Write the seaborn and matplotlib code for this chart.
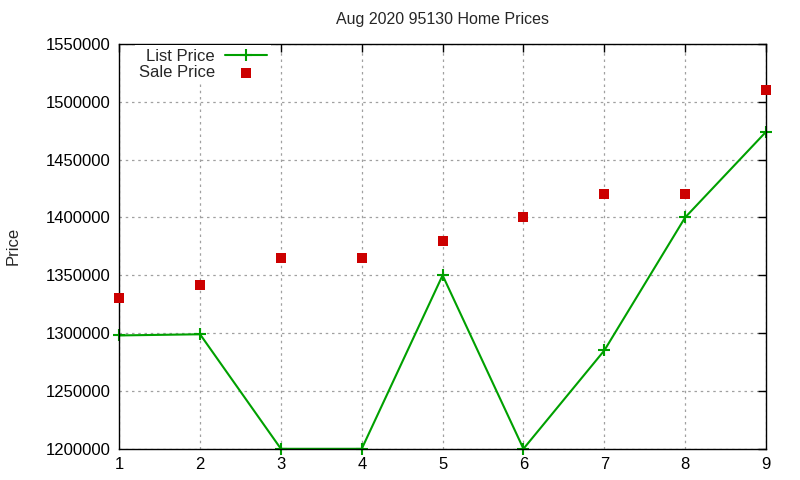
import pandas as pd
import seaborn as sns
import matplotlib
matplotlib.use('Agg')
import matplotlib.pyplot as plt
import matplotlib.ticker as mtick

# data
months = [1, 2, 3, 4, 5, 6, 7, 8, 9]
list_price = [1298000, 1299000, 1200000, 1200000, 1350000, 1200000, 1285000, 1400000, 1474000]
sale_price = [1330000, 1342000, 1365000, 1365000, 1380000, 1400000, 1420000, 1420000, 1510000]
y_ticks = [1200000, 1250000, 1300000, 1350000, 1400000, 1450000, 1500000, 1550000]

df = pd.DataFrame({'x': months, 'List Price': list_price, 'Sale Price': sale_price})

sns.set_style('white')
plt.rcParams['font.family'] = ['Liberation Sans', 'DejaVu Sans']

fig = plt.figure(figsize=(8, 4.8), dpi=100)
ax = fig.add_axes([0.149, 0.065, 0.8085, 0.8435])

sns.lineplot(data=df, x='x', y='List Price', ax=ax, color='#00a000', linewidth=1.5,
             marker='+', markersize=9, markeredgewidth=1.5, markeredgecolor='#00a000',
             label='List Price', clip_on=False)
sns.scatterplot(data=df, x='x', y='Sale Price', ax=ax, color='#cc0000', marker='s',
                s=45, linewidth=0, label='Sale Price', clip_on=False, zorder=5)

ax.set_xlim(1, 9)
ax.set_ylim(1200000, 1550000)
ax.set_xticks(months)
ax.set_yticks(y_ticks)
ax.yaxis.set_major_formatter(mtick.FormatStrFormatter('%d'))
ax.tick_params(direction='in', length=6, width=1, top=True, right=True,
               labelsize=12, colors='black')
ax.tick_params(axis='y', pad=6.5)
ax.tick_params(axis='x', pad=6)
for s in ax.spines.values():
    s.set_color('black')
    s.set_linewidth(1)
ax.grid(True, color='#a0a0a0', linestyle=(0, (2, 3)), linewidth=0.9)

ax.set_xlabel('')
ax.set_ylabel('Price', fontsize=12)
ax.yaxis.set_label_coords(-0.153, 0.5)
ax.set_title('Aug 2020 95130 Home Prices', fontsize=11.5, pad=14)

# gnuplot-style key: text before sample, blanks the grid behind it
leg = ax.legend(loc='upper left', bbox_to_anchor=(0.024, 0.997), frameon=True, markerfirst=False,
                fontsize=12, handlelength=2.5, borderaxespad=0.0, labelspacing=0.05,
                handletextpad=0.6, borderpad=0.25, fancybox=False)
leg.get_frame().set_facecolor('white')
leg.get_frame().set_edgecolor('none')
leg.get_frame().set_alpha(1)

plt.savefig('out.png', dpi=100)
